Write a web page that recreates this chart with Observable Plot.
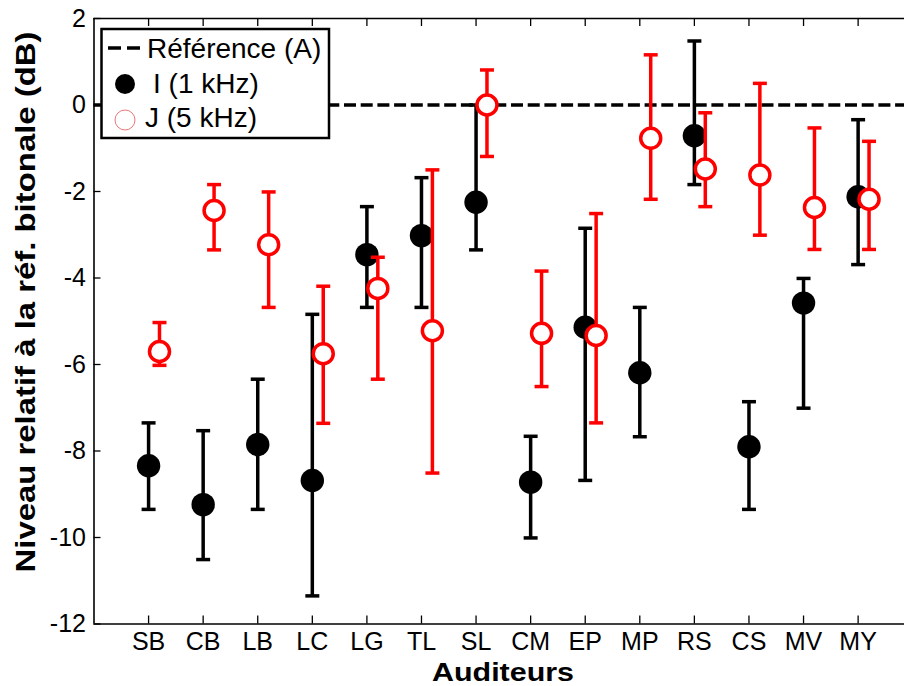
<!DOCTYPE html>
<html>
<head>
<meta charset="utf-8">
<script src="https://cdn.jsdelivr.net/npm/d3@7"></script>
<script src="https://cdn.jsdelivr.net/npm/@observablehq/plot@0.6"></script>
<style>
  html, body { margin: 0; padding: 0; background: white; }
  #chart svg { display: block; }
</style>
</head>
<body>
<div id="chart"></div>
<script>
// ---- Data ----
const categories = ["SB","CB","LB","LC","LG","TL","SL","CM","EP","MP","RS","CS","MV","MY"];
// Series I (1 kHz): mean, lower and upper error-bar ends (dB)
const iMean = [-8.34,-9.24,-7.85,-8.68,-3.46,-3.02,-2.25,-8.72,-5.14,-6.19,-0.71,-7.90,-4.58,-2.12];
const iLow  = [-9.35,-10.51,-9.35,-11.35,-4.68,-4.68,-3.35,-10.01,-8.68,-7.67,-1.84,-9.35,-7.01,-3.69];
const iHigh = [-7.35,-7.53,-6.34,-4.84,-2.35,-1.68,0.00,-7.66,-2.85,-4.68,1.48,-6.86,-4.01,-0.34];
// Series J (5 kHz)
const jMean = [-5.70,-2.44,-3.23,-5.75,-4.24,-5.22,0.00,-5.28,-5.33,-0.77,-1.48,-1.62,-2.37,-2.18];
const jLow  = [-6.02,-3.35,-4.68,-7.36,-6.34,-8.51,-1.19,-6.51,-7.35,-2.18,-2.35,-3.01,-3.34,-3.34];
const jHigh = [-5.03,-1.84,-2.01,-4.19,-3.52,-1.50,0.81,-3.84,-2.51,1.16,-0.18,0.50,-0.53,-0.84];
// Reference level (A)
const referenceLevel = [0];
// Axis ticks
const yTicks = [-12,-10,-8,-6,-4,-2,0,2];
const xTicks = categories.map((c, i) => i + 1);
const yDomain = [-12, 2];
const legendLabels = ["Référence (A)", "I (1 kHz)", "J (5 kHz)"];
const xTitle = "Auditeurs";
const yTitle = "Niveau relatif à la réf. bitonale (dB)";

// ---- Layout ----
const W = 904, H = 686;
const mL = 93.5, mR = 0, mT = 18, mB = 62.5;
const plotW = W - mL - mR, plotH = H - mT - mB;
const jOffset = 0.2;   // horizontal shift of series J (x units)
const capHalf = 0.128; // half-width of error-bar caps (x units)

const iRows = categories.map((c, k) => ({c, x: k + 1, mean: iMean[k], low: iLow[k], high: iHigh[k]}));
const jRows = categories.map((c, k) => ({c, x: k + 1 + jOffset, mean: jMean[k], low: jLow[k], high: jHigh[k]}));

function errorMarks(rows, color) {
  return [
    Plot.ruleX(rows, {x: "x", y1: "low", y2: "high", stroke: color, strokeWidth: 3.5}),
    Plot.link(rows, {x1: d => d.x - capHalf, x2: d => d.x + capHalf, y1: "high", y2: "high", stroke: color, strokeWidth: 3.5}),
    Plot.link(rows, {x1: d => d.x - capHalf, x2: d => d.x + capHalf, y1: "low", y2: "low", stroke: color, strokeWidth: 3.5})
  ];
}

const chart = Plot.plot({
  width: W, height: H,
  marginLeft: mL, marginRight: mR, marginTop: mT, marginBottom: mB,
  style: {fontFamily: "'Liberation Sans', Arial, sans-serif", fontSize: "25px", background: "white", color: "black"},
  x: {type: "linear", domain: [0, (W - mL - mR) / 54.58], ticks: xTicks, tickFormat: i => categories[i - 1], tickSize: 0, tickPadding: 8, label: null},
  y: {type: "linear", domain: yDomain, ticks: yTicks, tickFormat: d => String(d), tickSize: 0, tickPadding: 8, label: null},
  marks: [
    // frame (left, bottom, top)
    Plot.ruleX([0], {stroke: "black", strokeWidth: 1.6}),
    Plot.ruleY([yDomain[0]], {stroke: "black", strokeWidth: 1.6}),
    Plot.ruleY([yDomain[1]], {stroke: "black", strokeWidth: 1.6}),
    // inward ticks
    Plot.ruleX(xTicks, {x: d => d, insetTop: plotH - 8, stroke: "black", strokeWidth: 1.3}),
    Plot.ruleX(xTicks, {x: d => d, insetBottom: plotH - 8, stroke: "black", strokeWidth: 1.3}),
    Plot.ruleY(yTicks, {y: d => d, insetRight: plotW - 7, stroke: "black", strokeWidth: 1.3}),
    // reference line
    Plot.ruleY(referenceLevel, {stroke: "black", strokeWidth: 3.5, strokeDasharray: "12,4.7"}),
    // series I
    ...errorMarks(iRows, "black"),
    Plot.dot(iRows, {x: "x", y: "mean", r: 11.7, fill: "black", stroke: "none"}),
    // series J
    ...errorMarks(jRows, "#ff0000"),
    Plot.dot(jRows, {x: "x", y: "mean", r: 10, fill: "white", stroke: "#ff0000", strokeWidth: 3.5})
  ]
});

document.getElementById("chart").appendChild(chart);

// ---- Titles and legend (overlay) ----
const svg = d3.select(chart);
const font = "'Liberation Sans', Arial, sans-serif";

svg.append("text")
  .attr("x", 503).attr("y", 680.5)
  .attr("text-anchor", "middle")
  .attr("font-family", font).attr("font-weight", "bold").attr("font-size", 26)
  .attr("textLength", 142).attr("lengthAdjust", "spacingAndGlyphs")
  .attr("fill", "black")
  .text(xTitle);

svg.append("text")
  .attr("transform", "translate(35,302) rotate(-90)")
  .attr("text-anchor", "middle")
  .attr("font-family", font).attr("font-weight", "bold").attr("font-size", 28)
  .attr("textLength", 541).attr("lengthAdjust", "spacingAndGlyphs")
  .attr("fill", "black")
  .text(yTitle);

const lg = svg.append("g").attr("text-anchor", "start");
lg.append("rect")
  .attr("x", 101.5).attr("y", 29).attr("width", 227.5).attr("height", 109)
  .attr("fill", "white").attr("stroke", "black").attr("stroke-width", 2.5);
lg.append("line")
  .attr("x1", 108).attr("x2", 141).attr("y1", 48).attr("y2", 48)
  .attr("stroke", "black").attr("stroke-width", 3.5).attr("stroke-dasharray", "13,6");
lg.append("circle").attr("cx", 125).attr("cy", 84).attr("r", 10).attr("fill", "black");
lg.append("circle").attr("cx", 125).attr("cy", 120).attr("r", 10)
  .attr("fill", "white").attr("stroke", "#e87878").attr("stroke-width", 1);
const ly = [58, 92.7, 126.5];
const lx = [147, 153, 145];
legendLabels.forEach((t, k) => {
  lg.append("text")
    .attr("x", lx[k]).attr("y", ly[k])
    .attr("text-anchor", "start")
    .attr("font-family", font).attr("font-size", 28).attr("fill", "black")
    .text(t);
});
</script>
</body>
</html>
